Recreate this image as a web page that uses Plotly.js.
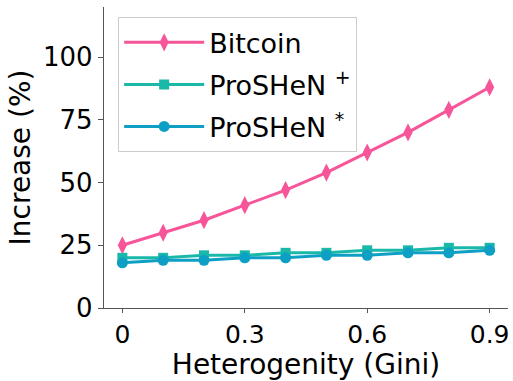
<!DOCTYPE html>
<html>
<head>
<meta charset="utf-8">
<script src="https://cdn.plot.ly/plotly-3.0.1.min.js"></script>
<style>html,body{margin:0;padding:0;background:#fff;}#chart{width:513px;height:381px;}</style>
</head>
<body>
<div id="chart"></div>
<script>
const gini = [0, 0.1, 0.2, 0.3, 0.4, 0.5, 0.6, 0.7, 0.8, 0.9];
const bitcoin = [25, 30, 35, 41, 47, 54, 62, 70, 79, 88];
const proshenPlus = [20, 20, 21, 21, 22, 22, 23, 23, 24, 24];
const proshenStar = [18, 19, 19, 20, 20, 21, 21, 22, 22, 23];
const xTickVals = [0, 0.3, 0.6, 0.9];
const xTickText = ['0', '0.3', '0.6', '0.9'];
const yTickVals = [0, 25, 50, 75, 100];

const font = 'DejaVu Sans, sans-serif';
const traces = [
  {x: gini, y: bitcoin, name: 'Bitcoin', mode: 'lines+markers', legendgroup: 'a',
   line: {color: '#f7559a', width: 3}, marker: {symbol: 'diamond-tall', size: 13, color: '#f7559a'}},
  {x: gini, y: proshenPlus, name: 'ProSHeN <sup>+</sup>', mode: 'lines+markers', legendgroup: 'b',
   line: {color: '#1ab8a8', width: 3}, marker: {symbol: 'square', size: 10, color: '#1ab8a8'}},
  {x: gini, y: proshenStar, name: 'ProSHeN <sup>*</sup>', mode: 'lines+markers', legendgroup: 'c',
   line: {color: '#0ea0c4', width: 3}, marker: {symbol: 'circle', size: 11, color: '#0ea0c4'}}
];
const layout = {
  width: 513, height: 381,
  margin: {l: 104, r: 5, t: 7, b: 73, pad: 0},
  paper_bgcolor: '#fff', plot_bgcolor: '#fff',
  font: {family: font, size: 26, color: '#000'},
  showlegend: true,
  legend: {x: 0.035, y: 0.966, xanchor: 'left', yanchor: 'top',
    bgcolor: 'rgba(255,255,255,0.8)', bordercolor: '#cccccc', borderwidth: 1,
    font: {family: font, size: 27, color: '#000'}, tracegroupgap: 4, itemwidth: 80},
  xaxis: {range: [-0.045, 0.945], tickvals: xTickVals, ticktext: xTickText,
    showgrid: false, zeroline: false, showline: true, linecolor: '#555', linewidth: 1.2,
    ticks: 'outside', ticklen: 4, tickcolor: '#555', tickfont: {size: 25},
    title: {text: 'Heterogenity (Gini)', font: {size: 28}, standoff: 0}},
  yaxis: {range: [0, 120], tickvals: yTickVals, showgrid: false, zeroline: false,
    showline: true, linecolor: '#555', linewidth: 1.2,
    ticks: 'outside', ticklen: 5, tickcolor: '#555', tickfont: {size: 26},
    title: {text: 'Increase (%)', font: {size: 28}, standoff: 4}}
};
Plotly.newPlot('chart', traces, layout, {displayModeBar: false, staticPlot: true});
</script>
</body>
</html>
